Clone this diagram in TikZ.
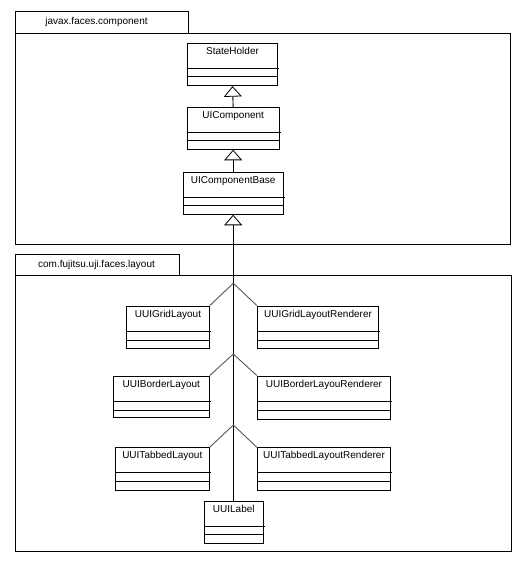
\documentclass[tikz,border=0pt]{standalone}
\usepackage{fontspec}
\setmainfont{Liberation Sans}
\usetikzlibrary{arrows.meta,fit,calc}
\tikzset{
  umlbox/.style={draw=black, line width=0.9pt, inner sep=0pt, fill=white},
  umlline/.style={draw=black, line width=0.9pt},
  umltext/.style={anchor=base, inner sep=0pt, font=\fontsize{10}{12}\selectfont},
  inherit/.style={draw=black, line width=0.9pt, -{Triangle[open, length=10.5pt, width=18pt, fill=white, line width=0.8pt]}},
  branch/.style={draw=black!65, line width=0.9pt},
}
% #1 name, #2 text, #3 x1, #4 y1, #5 x2, #6 y2, #7 d1, #8 d2
\newcommand\umlcls[8]{%
  \node[umlbox, fit={(#3,#4) (#5,#6)}] (#1) {};
  \draw[umlline] (#3,#7) -- ({#5+1.5},#7);
  \draw[umlline] (#3,#8) -- (#5,#8);
  \node[umltext] (#1-name) at ({(#3+#5)/2},{#4+11}) {#2};
}
\begin{document}
\begin{tikzpicture}[x=1pt,y=-1pt]
\useasboundingbox (0,0) rectangle (523,563);
% package 1
\node[umlbox, fit={(15,11.3) (188.7,33.3)}] (p1tab) {};
\node[umlbox, fit={(15,33.3) (510,244)}] (p1) {};
\node[umltext] (p1name) at (96.5,24.8) {javax.faces.component};
% package 2
\node[umlbox, fit={(15,254) (179.3,275.7)}] (p2tab) {};
\node[umlbox, fit={(15,275.7) (511.5,551.7)}] (p2) {};
\node[umltext] (p2name) at (96.5,267.7) {com.fujitsu.uji.faces.layout};
% classes
\umlcls{sh}{StateHolder}{187.3}{43.3}{277.7}{85.7}{68.3}{76.7}
\umlcls{uic}{UIComponent}{187.3}{107.3}{279}{149.3}{132.3}{140.3}
\umlcls{uicb}{UIComponentBase}{183}{172.3}{283.3}{214.3}{197.3}{205.7}
\umlcls{grid}{UUIGridLayout}{126.7}{306}{209.3}{348.3}{331.7}{340}
\umlcls{gridr}{UUIGridLayoutRenderer}{257.3}{306}{378.7}{348.3}{331.7}{340}
\umlcls{border}{UUIBorderLayout}{113.3}{376}{209.3}{417.3}{401.7}{410}
\umlcls{borderr}{UUIBorderLayouRenderer}{257.3}{376}{390.7}{419}{401.7}{410}
\umlcls{tabbed}{UUITabbedLayout}{115.3}{447.7}{209.3}{490}{472.7}{481}
\umlcls{tabbedr}{UUITabbedLayoutRenderer}{257.3}{447.7}{390.7}{490}{472.7}{481}
\umlcls{label}{UUILabel}{204.3}{501}{263.3}{543.3}{526}{534.3}
% inheritance
\draw[inherit] (uic.north) -- (sh.south);
\draw[inherit] (uicb.north) -- (uic.south);
\coordinate (b1) at (233.3,283.3);
\coordinate (b2) at (233.3,354);
\coordinate (b3) at (233.3,425);
\draw[inherit] (uicb.south |- label.north) -- (uicb.south);
\draw[branch] (grid.north east) -- (b1) -- (gridr.north west);
\draw[branch] (border.north east) -- (b2) -- (borderr.north west);
\draw[branch] (tabbed.north east) -- (b3) -- (tabbedr.north west);
\end{tikzpicture}
\end{document}
